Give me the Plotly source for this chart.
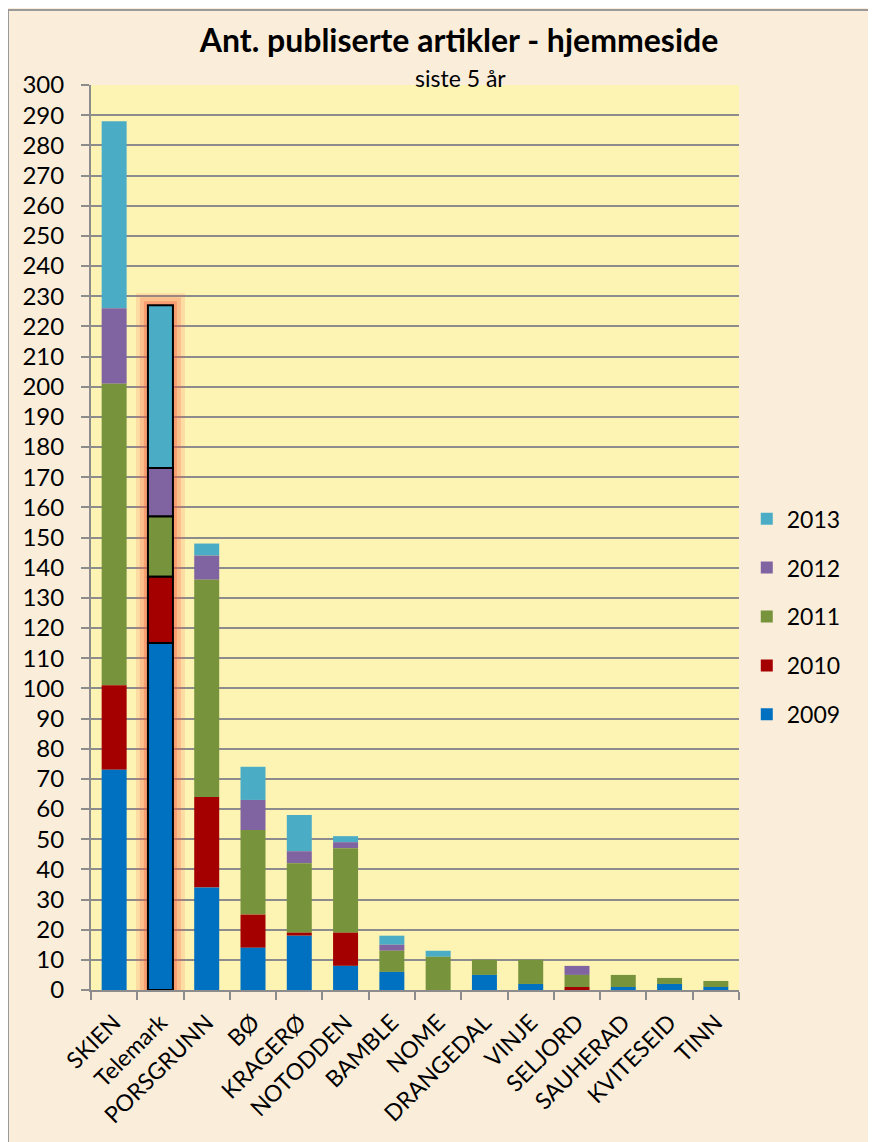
import numpy as np
import plotly.graph_objects as go

categories = ["SKIEN", "Telemark", "PORSGRUNN", "BØ", "KRAGERØ", "NOTODDEN", "BAMBLE",
              "NOME", "DRANGEDAL", "VINJE", "SELJORD", "SAUHERAD", "KVITESEID", "TINN"]
years = ["2009", "2010", "2011", "2012", "2013"]
v2009 = [73, 115, 34, 14, 18, 8, 6, 0, 5, 2, 0, 1, 2, 1]
v2010 = [28, 22, 30, 11, 1, 11, 0, 0, 0, 0, 1, 0, 0, 0]
v2011 = [100, 20, 72, 28, 23, 28, 7, 11, 5, 8, 4, 4, 2, 2]
v2012 = [25, 16, 8, 10, 4, 2, 2, 0, 0, 0, 3, 0, 0, 0]
v2013 = [62, 54, 4, 11, 12, 2, 3, 2, 0, 0, 0, 0, 0, 0]
colors = ["#0070C0", "#A50000", "#77933C", "#8064A2", "#4BACC6"]
highlight = "Telemark"

series = [v2009, v2010, v2011, v2012, v2013]
data = np.array(series, dtype=float)
bases = np.vstack([np.zeros(len(categories)), np.cumsum(data, axis=0)[:-1]])
totals = data.sum(axis=0)

font_family = "Lato, 'Open Sans', sans-serif"
BW = 0.54

# page has an 8px body offset; figure sized to fit
W, H = 868, 1134
L, T = 83, 77
PW, PH = 648, 905
R = W - L - PW
B = H - T - PH

fig = go.Figure()

# glow behind highlighted bar
glow_vals = [t if c == highlight else None for c, t in zip(categories, totals)]
for w, a in [(24, 0.15), (16, 0.22), (8, 0.32)]:
    fig.add_trace(go.Bar(
        x=categories, y=glow_vals, width=BW,
        marker=dict(color="rgba(0,0,0,0)", line=dict(color=f"rgba(245,90,60,{a})", width=w)),
        showlegend=False, hoverinfo="skip"))

# add newest year first so the legend lists 2013 at the top
for yr, vals, base, col in list(zip(years, data, bases, colors))[::-1]:
    lw = [2 if c == highlight else 0 for c in categories]
    fig.add_trace(go.Bar(
        x=categories, y=vals, base=base, name=yr, width=BW,
        marker=dict(color=col, line=dict(color="black", width=lw)),
        legendgroup=yr))

fig.update_layout(
    barmode="overlay",
    width=W, height=H,
    margin=dict(l=L, r=R, t=T, b=B),
    paper_bgcolor="#FAEEDB",
    plot_bgcolor="#FDF4B4",
    font=dict(family=font_family, size=21, color="black"),
    title=dict(text="<b>Ant. publiserte artikler - hjemmeside</b>",
               font=dict(size=32, family=font_family),
               xref="container", x=(459 - 8) / W, xanchor="center",
               yref="container", y=1 - (41 - 8) / H, yanchor="middle"),
    legend=dict(x=1.012, xanchor="left", y=0.5445, yanchor="top",
                traceorder="grouped", tracegroupgap=16,
                font=dict(size=23), bgcolor="rgba(0,0,0,0)"),
    showlegend=True,
    annotations=[dict(text="siste 5 år", xref="paper", yref="paper",
                      x=(460 - 91) / PW, y=(990 - 78) / PH, xanchor="center", yanchor="middle",
                      showarrow=False, font=dict(size=23))],
    shapes=[
        dict(type="rect", xref="paper", yref="paper",
             x0=-83 / PW, x1=(PW + R + 20) / PW, y0=-(B + 20) / PH, y1=(990 - 10) / PH,
             fillcolor="rgba(0,0,0,0)", line=dict(color="#9A9A9A", width=2), layer="below"),
    ],
)

fig.update_yaxes(range=[0, 300], dtick=10, showgrid=True, gridcolor="#8C8C8C", gridwidth=2,
                 showline=True, linecolor="#8C8C8C", linewidth=2,
                 ticks="outside", ticklen=8, tickwidth=2, tickcolor="#8C8C8C",
                 ticklabelstandoff=12, tickfont=dict(size=24), zeroline=False)
fig.update_xaxes(type="category", categoryorder="array", categoryarray=categories,
                 showgrid=False, showline=True, linecolor="#8C8C8C", linewidth=2,
                 ticks="outside", ticklen=8, tickwidth=2, tickcolor="#8C8C8C",
                 tickson="boundaries", tickangle=-45, ticklabelstandoff=8,
                 tickfont=dict(size=23))

fig.write_html("out.html")
